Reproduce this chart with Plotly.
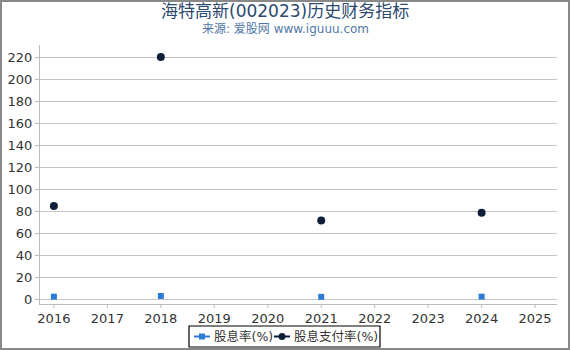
import plotly.graph_objects as go

years = [2016, 2017, 2018, 2019, 2020, 2021, 2022, 2023, 2024, 2025]
dividend_yield = [2.2, None, 2.8, None, None, 2.0, None, None, 2.2, None]
payout_ratio = [84.5, None, 220.0, None, None, 71.5, None, None, 78.5, None]
series_names = ["股息率(%)", "股息支付率(%)"]
series_colors = ["#2e7bd6", "#0f1f3a"]

W, H = 570, 350
ml, mr, mt, mb = 40, 13, 45, 46
pw, ph = W - ml - mr, H - mt - mb

font_family = "DejaVu Sans, Noto Sans CJK SC, sans-serif"


def px(x):
    return (x - ml) / pw


def py(y):
    return 1 - (y - mt) / ph


fig = go.Figure()
fig.add_trace(go.Scatter(
    x=years, y=dividend_yield, name=series_names[0], mode="markers",
    marker=dict(symbol="square", size=6, color=series_colors[0]),
))
fig.add_trace(go.Scatter(
    x=years, y=payout_ratio, name=series_names[1], mode="markers",
    marker=dict(symbol="circle", size=8, color=series_colors[1]),
))

fig.update_layout(
    width=W, height=H,
    margin=dict(l=ml, r=mr, t=mt, b=mb, autoexpand=False),
    paper_bgcolor="white", plot_bgcolor="white",
    font=dict(family=font_family, size=13, color="#333333"),
    showlegend=False,
    xaxis=dict(
        range=[2015.74, 2025.41], tickmode="array", tickvals=years,
        ticktext=[str(y) for y in years],
        showgrid=False, showline=True, linecolor="#bbbbbb", linewidth=1,
        ticks="", ticklabelstandoff=2,
        zeroline=False, tickfont=dict(size=13, color="#333333"),
    ),
    yaxis=dict(
        range=[-4.5, 231], tickmode="array", tickvals=list(range(0, 221, 20)),
        showgrid=True, gridcolor="#c4c4c4", gridwidth=1,
        showline=True, linecolor="#bbbbbb", linewidth=1,
        ticks="outside", tickcolor="#bbbbbb", ticklen=4,
        zeroline=False, tickfont=dict(size=13, color="#333333"),
    ),
)

# x-axis tick marks (drawn at the category years)
for yr in years:
    fig.add_shape(type="line", xref="x", yref="paper",
                  x0=yr, x1=yr, y0=0, y1=-4 / ph,
                  line=dict(color="#bbbbbb", width=1))

fig.add_annotation(
    text="海特高新(002023)历史财务指标", xref="paper", yref="paper",
    x=px(W / 2), y=py(-1), xanchor="center", yanchor="top",
    showarrow=False, font=dict(size=17, color="#2c4a6e", family=font_family),
)
fig.add_annotation(
    text="来源: 爱股网 www.iguuu.com", xref="paper", yref="paper",
    x=px(W / 2), y=py(20), xanchor="center", yanchor="top",
    showarrow=False, font=dict(size=12, color="#4f77a8", family=font_family),
)

# outer grey frame around the whole image
fig.add_shape(
    type="rect", xref="paper", yref="paper",
    x0=px(1), x1=px(W - 1), y0=py(H - 1), y1=py(1),
    line=dict(color="#888888", width=2), fillcolor="rgba(0,0,0,0)",
    layer="below",
)

# legend box drawn by hand
leg_top, leg_bot, leg_l, leg_r = 326, 347, 189, 380
ly = (leg_top + leg_bot) / 2
fig.add_shape(type="rect", xref="paper", yref="paper",
              x0=px(leg_l), x1=px(leg_r), y0=py(leg_bot), y1=py(leg_top),
              line=dict(color="#000000", width=1.2), fillcolor="white")
# item 1
fig.add_shape(type="line", xref="paper", yref="paper",
              x0=px(194), x1=px(210), y0=py(ly), y1=py(ly),
              line=dict(color=series_colors[0], width=2))
fig.add_shape(type="rect", xref="paper", yref="paper",
              x0=px(199), x1=px(205), y0=py(ly + 3), y1=py(ly - 3),
              line=dict(width=0), fillcolor=series_colors[0])
fig.add_annotation(text=series_names[0], xref="paper", yref="paper",
                   x=px(212), y=py(ly), xanchor="left", yanchor="middle",
                   showarrow=False, font=dict(size=12.5, color="#333333"))
# item 2
fig.add_shape(type="line", xref="paper", yref="paper",
              x0=px(274), x1=px(290), y0=py(ly), y1=py(ly),
              line=dict(color=series_colors[1], width=2))
fig.add_shape(type="circle", xref="paper", yref="paper",
              x0=px(278.5), x1=px(285.5), y0=py(ly + 3.5), y1=py(ly - 3.5),
              line=dict(width=0), fillcolor=series_colors[1])
fig.add_annotation(text=series_names[1], xref="paper", yref="paper",
                   x=px(292), y=py(ly), xanchor="left", yanchor="middle",
                   showarrow=False, font=dict(size=12.5, color="#333333"))

fig.write_html("out.html")
